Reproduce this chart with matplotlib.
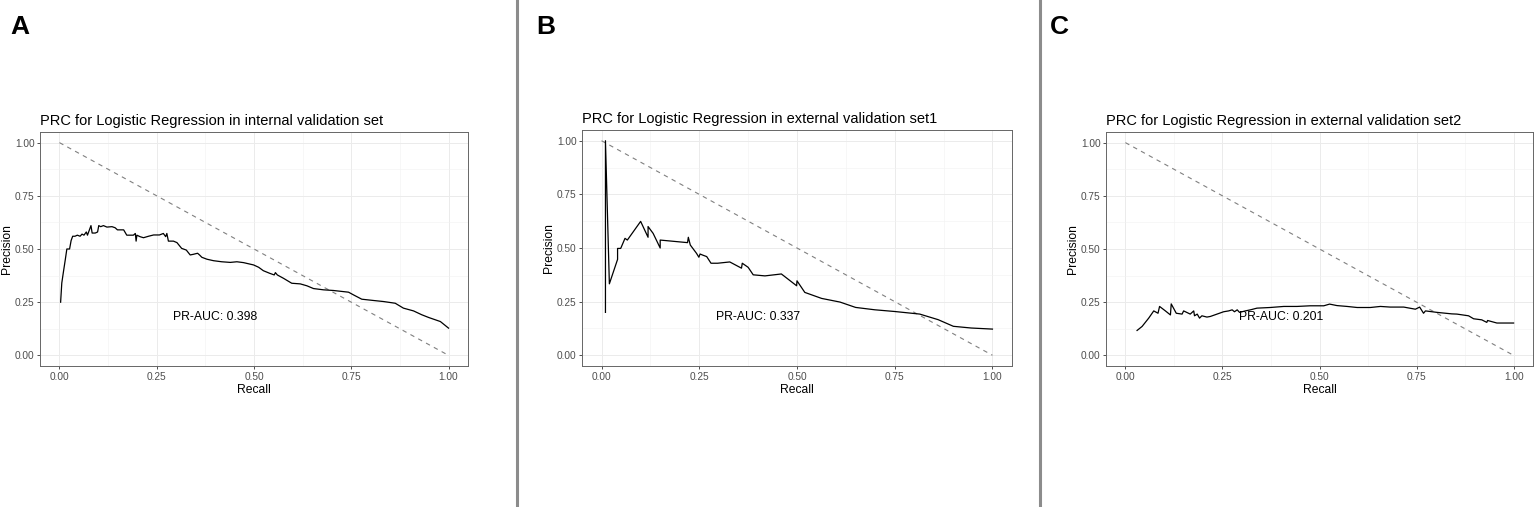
import matplotlib.pyplot as plt
from matplotlib.lines import Line2D

plt.rcParams['font.family'] = ['Liberation Sans', 'DejaVu Sans']

# Panel A: internal validation set
recall_a = [0.003, 0.006, 0.010, 0.015, 0.019, 0.026, 0.030, 0.034, 0.040, 0.046,
            0.053, 0.058, 0.063, 0.069, 0.072, 0.077, 0.081, 0.084, 0.092, 0.098,
            0.101, 0.106, 0.113, 0.122, 0.135, 0.143, 0.149, 0.165, 0.173, 0.190,
            0.195, 0.197, 0.199, 0.207, 0.216, 0.229, 0.242, 0.257, 0.267, 0.273,
            0.276, 0.280, 0.293, 0.302, 0.314, 0.326, 0.336, 0.344, 0.355, 0.360,
            0.366, 0.379, 0.396, 0.417, 0.439, 0.456, 0.473, 0.499, 0.512, 0.524,
            0.540, 0.552, 0.555, 0.560, 0.576, 0.597, 0.619, 0.636, 0.653, 0.679,
            0.704, 0.743, 0.756, 0.777, 0.807, 0.833, 0.863, 0.884, 0.910, 0.931,
            0.949, 0.979, 1.000]
precision_a = [0.250, 0.340, 0.390, 0.450, 0.500, 0.500, 0.540, 0.560, 0.560, 0.565,
               0.560, 0.570, 0.565, 0.580, 0.565, 0.590, 0.610, 0.575, 0.575, 0.580,
               0.610, 0.605, 0.610, 0.603, 0.605, 0.600, 0.590, 0.590, 0.565, 0.565,
               0.573, 0.537, 0.565, 0.558, 0.553, 0.560, 0.566, 0.566, 0.573, 0.558,
               0.573, 0.537, 0.537, 0.530, 0.503, 0.495, 0.472, 0.475, 0.480, 0.472,
               0.461, 0.452, 0.445, 0.440, 0.437, 0.440, 0.436, 0.425, 0.414, 0.398,
               0.386, 0.378, 0.389, 0.378, 0.362, 0.339, 0.336, 0.327, 0.314, 0.308,
               0.305, 0.297, 0.284, 0.264, 0.258, 0.253, 0.245, 0.222, 0.209, 0.191,
               0.178, 0.159, 0.128]

# Panel B: external validation set1
recall_b = [0.010, 0.010, 0.020, 0.041, 0.041, 0.049, 0.060, 0.066, 0.100, 0.119,
            0.119, 0.132, 0.150, 0.150, 0.220, 0.222, 0.227, 0.243, 0.249, 0.252,
            0.260, 0.269, 0.280, 0.297, 0.328, 0.358, 0.360, 0.375, 0.388, 0.418,
            0.460, 0.499, 0.500, 0.520, 0.563, 0.610, 0.650, 0.699, 0.750, 0.814,
            0.861, 0.900, 0.946, 1.000]
precision_b = [0.200, 1.000, 0.333, 0.447, 0.498, 0.498, 0.545, 0.537, 0.624, 0.550,
               0.600, 0.568, 0.500, 0.537, 0.525, 0.550, 0.514, 0.475, 0.457, 0.472,
               0.466, 0.460, 0.429, 0.429, 0.435, 0.406, 0.429, 0.410, 0.375, 0.370,
               0.379, 0.324, 0.347, 0.293, 0.265, 0.248, 0.223, 0.212, 0.204, 0.192,
               0.166, 0.135, 0.127, 0.122]

# Panel C: external validation set2
recall_c = [0.030, 0.043, 0.060, 0.073, 0.084, 0.088, 0.103, 0.116, 0.118, 0.131,
            0.146, 0.150, 0.167, 0.176, 0.178, 0.185, 0.191, 0.197, 0.210, 0.219,
            0.236, 0.253, 0.266, 0.275, 0.281, 0.288, 0.294, 0.309, 0.322, 0.339,
            0.373, 0.408, 0.442, 0.476, 0.511, 0.526, 0.545, 0.571, 0.597, 0.631,
            0.657, 0.682, 0.717, 0.747, 0.758, 0.768, 0.773, 0.803, 0.841, 0.854,
            0.884, 0.897, 0.918, 0.931, 0.933, 0.957, 1.000]
precision_c = [0.117, 0.136, 0.175, 0.209, 0.198, 0.230, 0.209, 0.190, 0.242, 0.198,
               0.194, 0.209, 0.194, 0.209, 0.186, 0.194, 0.175, 0.186, 0.180, 0.183,
               0.194, 0.205, 0.209, 0.214, 0.205, 0.214, 0.202, 0.209, 0.214, 0.222,
               0.225, 0.230, 0.230, 0.233, 0.233, 0.241, 0.234, 0.230, 0.225, 0.225,
               0.230, 0.227, 0.227, 0.217, 0.227, 0.198, 0.209, 0.202, 0.195, 0.194,
               0.186, 0.172, 0.167, 0.155, 0.164, 0.152, 0.152]

letters = ['A', 'B', 'C']
titles = ['PRC for Logistic Regression in internal validation set',
          'PRC for Logistic Regression in external validation set1',
          'PRC for Logistic Regression in external validation set2']
auc_labels = ['PR-AUC: 0.398', 'PR-AUC: 0.337', 'PR-AUC: 0.201']
ticks = [0.0, 0.25, 0.5, 0.75, 1.0]
tick_labels = ['0.00', '0.25', '0.50', '0.75', '1.00']

W, H = 1536, 507
fig = plt.figure(figsize=(W / 100, H / 100), dpi=100)

# axes boxes in pixels: left, right, top, bottom
boxes = [(40, 468, 132, 366), (582, 1012, 130, 366), (1106, 1533, 132, 366)]
letter_x = [10, 536, 1050]
seps = [517, 1040]

series = [(recall_a, precision_a), (recall_b, precision_b), (recall_c, precision_c)]

for i, (l, r, t, b) in enumerate(boxes):
    ax = fig.add_axes([l / W, 1 - b / H, (r - l) / W, (b - t) / H])
    ax.set_xlim(-0.05, 1.05)
    ax.set_ylim(-0.05, 1.05)
    ax.set_xticks(ticks)
    ax.set_xticklabels(tick_labels)
    ax.set_yticks(ticks)
    ax.set_yticklabels(tick_labels)
    ax.set_xticks([0.125, 0.375, 0.625, 0.875], minor=True)
    ax.set_yticks([0.125, 0.375, 0.625, 0.875], minor=True)
    ax.grid(True, which='major', color='#ebebeb', lw=0.7)
    ax.grid(True, which='minor', color='#f2f2f2', lw=0.4)
    ax.set_axisbelow(True)
    ax.tick_params(which='major', length=2.5, width=0.6, color='#333333',
                   labelsize=7.3, labelcolor='#4d4d4d', pad=1.5)
    ax.tick_params(which='minor', length=0)
    for s in ax.spines.values():
        s.set_color('#666666')
        s.set_linewidth(0.7)

    ax.plot([0, 1], [1, 0], color='#808080', lw=0.8, ls=(0, (4, 4)))
    x, y = series[i]
    ax.plot(x, y, color='black', lw=0.9)
    ax.text(0.4, 0.18, auc_labels[i], ha='center', va='center', fontsize=8.8)

    ax.set_title(titles[i], loc='left', fontsize=10.5, pad=5, x=0)
    ax.set_xlabel('Recall', fontsize=8.7, labelpad=2)
    ax.set_ylabel('Precision', fontsize=8.7, labelpad=1)

    fig.text(letter_x[i] / W, 1 - 27 / H, letters[i], fontsize=19,
             fontweight='bold', va='center', ha='left')

for sx in seps:
    fig.add_artist(Line2D([sx / W, sx / W], [0, 1], color='#8c8c8c', lw=2.2,
                          transform=fig.transFigure))

fig.savefig('out.png', dpi=100)
